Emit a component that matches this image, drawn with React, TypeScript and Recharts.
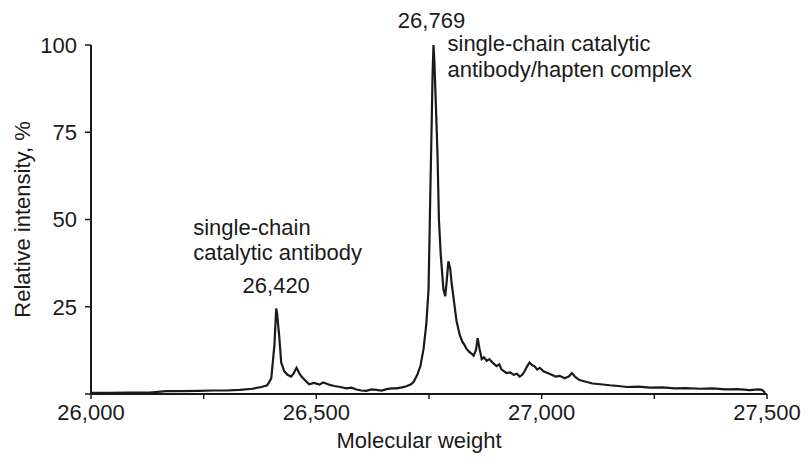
import { Label, Line, LineChart, ReferenceDot, XAxis, YAxis } from "recharts"

// molecular weight (Da) and relative intensity (%)
const weights = [
  26000, 26040, 26084, 26130, 26167, 26200, 26240, 26270, 26300, 26330, 26358, 26378, 26391, 26400,
  26407, 26411, 26413, 26418, 26422, 26429, 26436, 26444, 26450, 26456, 26462, 26467, 26476, 26484,
  26495, 26507, 26515, 26522, 26530, 26540, 26553, 26567, 26578, 26589, 26600, 26611, 26622, 26633,
  26645, 26656, 26667, 26678, 26690, 26700, 26710, 26716, 26724, 26731, 26738, 26744, 26749, 26753,
  26756, 26758, 26760, 26762, 26766, 26769, 26772, 26776, 26779, 26782, 26786, 26789, 26793, 26797,
  26800, 26804, 26807, 26811, 26818, 26824, 26829, 26833, 26840, 26845, 26849, 26854, 26858, 26862,
  26867, 26872, 26878, 26884, 26891, 26900, 26906, 26911, 26917, 26922, 26930, 26938, 26945, 26951,
  26957, 26962, 26968, 26973, 26979, 26984, 26990, 26996, 27004, 27013, 27022, 27031, 27040, 27051,
  27060, 27067, 27075, 27084, 27098, 27113, 27130, 27151, 27170, 27189, 27215, 27240, 27268, 27296,
  27320, 27351, 27380, 27407, 27435, 27462, 27480, 27489, 27496,
]
const intensity = [
  0.3, 0.3, 0.4, 0.4, 0.8, 0.8, 0.9, 1.0, 1.0, 1.2, 1.5, 2.0, 2.5, 4.5,
  14, 24.5, 23, 16, 9, 6.5, 5.5, 5, 6, 7.5, 6, 5, 3.8, 2.8,
  3.2, 2.7, 3.3, 3, 2.6, 2.3, 2.0, 1.6, 1.8, 1.3, 1.0, 0.9, 1.3, 1.2,
  1.0, 1.4, 1.6, 1.6, 1.9, 2.2, 2.8, 3.5, 5.5, 8, 13, 20, 30, 58,
  78, 92, 100, 95, 80, 68, 50, 40, 35, 30, 28, 32, 38, 36,
  32, 28, 25, 21, 17, 15, 14, 13, 12, 11.5, 11, 12.5, 16, 13,
  10, 10.5, 9.5, 10, 9, 8, 8.5, 7, 6.5, 6, 6.2, 5.5, 5.8, 5,
  5.5, 6.5, 8, 9, 8.2, 8, 7, 7.5, 6.5, 6, 5.5, 5, 5.2, 4.5,
  5, 6, 4.8, 4, 3.5, 3, 2.8, 2.5, 2.3, 2, 2.1, 1.8, 1.9, 1.6,
  1.7, 1.5, 1.6, 1.3, 1.4, 1.1, 1.3, 1.2, 0.3,
]

const xTicks = [26000, 26250, 26500, 26750, 27000, 27250, 27500]
const yTicks = [0, 25, 50, 75, 100]

const peakWeights = [26411, 26760]
const peakLabels = ["26,420", "26,769"]
const peakNames = [
  ["single-chain", "catalytic antibody"],
  ["single-chain catalytic", "antibody/hapten complex"],
]

const data = weights.map((mw, i) => ({ mw, pct: intensity[i] }))

const FONT = "'Liberation Sans', Arial, Helvetica, sans-serif"
const INK = "#1a1a1a"
const FS = 22

function LeftPeakLabel({ viewBox }: any) {
  const { x, y } = viewBox
  return (
    <g fontFamily={FONT} fontSize={FS} fill={INK}>
      <text x={x - 83} y={y - 73}>{peakNames[0][0]}</text>
      <text x={x - 83} y={y - 48}>{peakNames[0][1]}</text>
      <text x={x} y={y - 15} textAnchor="middle">{peakLabels[0]}</text>
    </g>
  )
}

function MainPeakLabel({ viewBox }: any) {
  const { x, y } = viewBox
  return (
    <g fontFamily={FONT} fontSize={FS} fill={INK}>
      <text x={x - 2} y={y - 17} textAnchor="middle">{peakLabels[1]}</text>
      <text x={x + 14} y={y + 6}>{peakNames[1][0]}</text>
      <text x={x + 14} y={y + 32}>{peakNames[1][1]}</text>
    </g>
  )
}

export default function App() {
  const tick = { fill: INK, fontSize: FS, fontFamily: FONT }
  return (
    <div style={{ position: "fixed", left: 0, top: 0, width: 811, height: 468, background: "#fff" }}>
      <LineChart width={811} height={468} data={data} margin={{ top: 45, right: 44, bottom: 0, left: 0 }}>
        <XAxis
          dataKey="mw"
          type="number"
          domain={[26000, 27500]}
          ticks={xTicks}
          tickFormatter={(v: number) => (v % 500 === 0 ? v.toLocaleString("en-US") : "")}
          tick={tick}
          tickSize={5}
          tickMargin={5}
          height={74}
          axisLine={{ stroke: INK, strokeWidth: 2 }}
          tickLine={{ stroke: INK, strokeWidth: 1.5 }}
        >
          <Label
            value="Molecular weight"
            position="insideBottom"
            offset={20}
            dx={-10}
            style={{ fill: INK, fontSize: FS, fontFamily: FONT }}
          />
        </XAxis>
        <YAxis
          type="number"
          domain={[0, 100]}
          ticks={yTicks}
          tickFormatter={(v: number) => (v === 0 ? "" : String(v))}
          tick={tick}
          tickSize={6}
          tickMargin={8}
          width={91}
          axisLine={{ stroke: INK, strokeWidth: 2 }}
          tickLine={{ stroke: INK, strokeWidth: 1.5 }}
        >
          <Label
            value="Relative intensity, %"
            angle={-90}
            position="insideLeft"
            offset={22}
            style={{ fill: INK, fontSize: FS, fontFamily: FONT, textAnchor: "middle" }}
          />
        </YAxis>
        <Line
          type="linear"
          dataKey="pct"
          stroke={INK}
          strokeWidth={2.2}
          dot={false}
          isAnimationActive={false}
        />
        <ReferenceDot
          x={peakWeights[0]}
          y={intensity[weights.indexOf(peakWeights[0])]}
          r={0}
          stroke="none"
          label={<Label content={LeftPeakLabel} />}
        />
        <ReferenceDot
          x={peakWeights[1]}
          y={intensity[weights.indexOf(peakWeights[1])]}
          r={0}
          stroke="none"
          label={<Label content={MainPeakLabel} />}
        />
      </LineChart>
    </div>
  )
}
